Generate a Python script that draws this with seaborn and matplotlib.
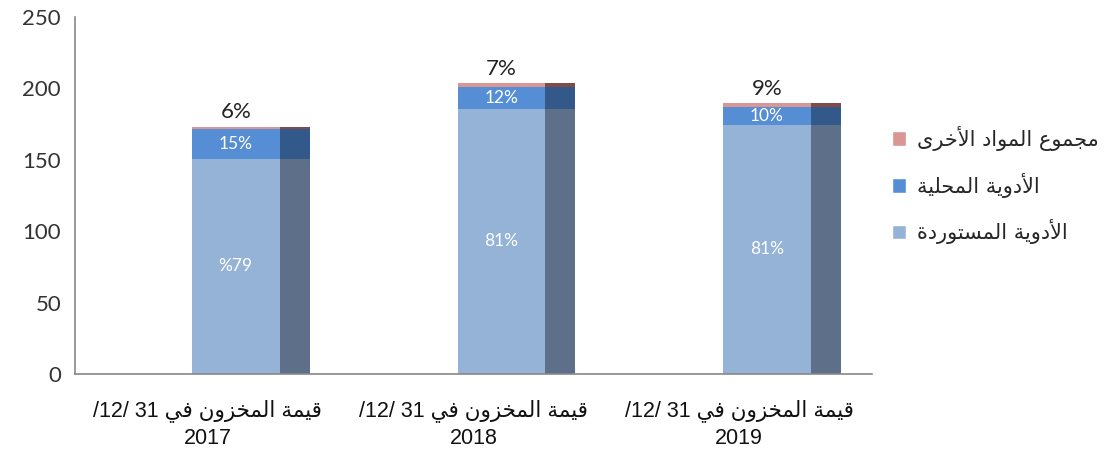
import numpy as np
import pandas as pd
import matplotlib
matplotlib.use('Agg')
import matplotlib.pyplot as plt
from matplotlib.patches import Patch
import seaborn as sns

# data
years = ['2017', '2018', '2019']
imported = [150.6, 185.6, 174.4]
local = [21.0, 15.6, 12.8]
other = [1.6, 2.6, 2.6]
pct_imported = ['%79', '81%', '81%']
pct_local = ['15%', '12%', '10%']
pct_other = ['6%', '7%', '9%']
series_names = ['الأدوية المستوردة', 'الأدوية المحلية', 'مجموع المواد الأخرى']
label_prefix = 'قيمة المخزون في'
label_date = '/12/ 31'

front_colors = ['#95B3D7', '#558ED5', '#D99694']
side_colors = ['#5E7089', '#33598A', '#7F4B4B']

# matplotlib has no Arabic shaping: map letters to presentation forms, then reverse
FORMS = {
    'ا': ('\uFE8D', '\uFE8E', None, None),
    'أ': ('\uFE83', '\uFE84', None, None),
    'ة': ('\uFE93', '\uFE94', None, None),
    'ت': ('\uFE95', '\uFE96', '\uFE97', '\uFE98'),
    'ج': ('\uFE9D', '\uFE9E', '\uFE9F', '\uFEA0'),
    'ح': ('\uFEA1', '\uFEA2', '\uFEA3', '\uFEA4'),
    'خ': ('\uFEA5', '\uFEA6', '\uFEA7', '\uFEA8'),
    'د': ('\uFEA9', '\uFEAA', None, None),
    'ر': ('\uFEAD', '\uFEAE', None, None),
    'ز': ('\uFEAF', '\uFEB0', None, None),
    'س': ('\uFEB1', '\uFEB2', '\uFEB3', '\uFEB4'),
    'ع': ('\uFEC9', '\uFECA', '\uFECB', '\uFECC'),
    'ف': ('\uFED1', '\uFED2', '\uFED3', '\uFED4'),
    'ق': ('\uFED5', '\uFED6', '\uFED7', '\uFED8'),
    'ل': ('\uFEDD', '\uFEDE', '\uFEDF', '\uFEE0'),
    'م': ('\uFEE1', '\uFEE2', '\uFEE3', '\uFEE4'),
    'ن': ('\uFEE5', '\uFEE6', '\uFEE7', '\uFEE8'),
    'و': ('\uFEED', '\uFEEE', None, None),
    'ى': ('\uFEEF', '\uFEF0', None, None),
    'ي': ('\uFEF1', '\uFEF2', '\uFEF3', '\uFEF4'),
}
LAM_ALEF = {'ا': ('\uFEFB', '\uFEFC'), 'أ': ('\uFEF7', '\uFEF8')}


def dual(c):
    return c in FORMS and FORMS[c][2] is not None


def rtl(text):
    out = []
    i = 0
    while i < len(text):
        c = text[i]
        if c not in FORMS:
            out.append(c)
            i += 1
            continue
        prev_joins = i > 0 and dual(text[i - 1])
        if c == 'ل' and i + 1 < len(text) and text[i + 1] in LAM_ALEF:
            out.append(LAM_ALEF[text[i + 1]][1 if prev_joins else 0])
            i += 2
            continue
        next_joins = dual(c) and i + 1 < len(text) and text[i + 1] in FORMS
        iso, fin, ini, med = FORMS[c]
        if prev_joins and next_joins:
            out.append(med)
        elif prev_joins:
            out.append(fin)
        elif next_joins:
            out.append(ini)
        else:
            out.append(iso)
        i += 1
    return ''.join(reversed(out))


cat_labels = [f'{label_date} {rtl(label_prefix)}\n{y}' for y in years]
df = pd.DataFrame({'cat': cat_labels, 'imported': imported, 'local': local, 'other': other})
df['top_imported'] = df['imported']
df['top_local'] = df['imported'] + df['local']
df['top_other'] = df['top_local'] + df['other']

sns.set_style('white')
plt.rcParams['font.family'] = ['Lato', 'DejaVu Sans']

fig = plt.figure(figsize=(11.12, 4.54), dpi=100)
ax = fig.add_axes([75 / 1112, 80 / 454, 797 / 1112, 357 / 454])

FRONT_W = 0.33
FRONT_SHIFT = 0.105
SIDE_W = 0.113
x = np.arange(len(years))

# stacked by drawing cumulative tops, tallest first
layers = [('top_other', 2), ('top_local', 1), ('top_imported', 0)]
for col, k in layers:
    n_before = len(ax.patches)
    sns.barplot(data=df, x='cat', y=col, color=front_colors[k], width=FRONT_W,
                saturation=1, linewidth=0, errorbar=None, ax=ax)
    for p in ax.patches[n_before:]:
        p.set_x(p.get_x() + FRONT_SHIFT)
    ax.bar(x + FRONT_SHIFT + FRONT_W / 2 + SIDE_W / 2, df[col], width=SIDE_W,
           color=side_colors[k], linewidth=0)

# labels in the bars
fc = x + FRONT_SHIFT
for i in range(len(years)):
    ax.text(fc[i], imported[i] / 2, pct_imported[i], ha='center', va='center',
            color='white', fontsize=12.5)
    ax.text(fc[i], imported[i] + local[i] / 2, pct_local[i], ha='center', va='center',
            color='white', fontsize=12.5)
    ax.text(fc[i], df['top_other'][i] + 3, pct_other[i], ha='center', va='bottom',
            color='#222222', fontsize=16)

ax.set_xlim(-0.5, 2.5)
ax.set_ylim(0, 250)
ax.set_yticks(range(0, 251, 50))
ax.set_xlabel('')
ax.set_ylabel('')

ax.set_xticks([-0.5, 0.5, 1.5, 2.5])
ax.set_xticklabels([])
ax.set_xticks(x, minor=True)
ax.set_xticklabels(cat_labels, minor=True, fontsize=15.5,
                   family=['Liberation Sans', 'DejaVu Sans'], color='#111111',
                   linespacing=1.35)
ax.tick_params(axis='x', which='minor', length=0, pad=18)
ax.tick_params(axis='x', which='major', length=7, width=1.2, color='#888888', direction='out')
ax.tick_params(axis='y', length=7, width=1.2, color='#888888', direction='out',
               labelsize=16, labelcolor='#333333', pad=3)

for s in ['top', 'right']:
    ax.spines[s].set_visible(False)
for s in ['left', 'bottom']:
    ax.spines[s].set_color('#888888')
    ax.spines[s].set_linewidth(1.2)

handles = [Patch(facecolor=front_colors[k]) for k in (2, 1, 0)]
names = [rtl(series_names[k]) for k in (2, 1, 0)]
fig.legend(handles, names, loc='center left', bbox_to_anchor=(873 / 1112, 1 - 185 / 454),
           frameon=False, prop={'family': 'DejaVu Sans', 'size': 15},
           handlelength=0.7, handleheight=0.7, handletextpad=0.5, labelspacing=1.05)

fig.savefig('out.png', dpi=100)
